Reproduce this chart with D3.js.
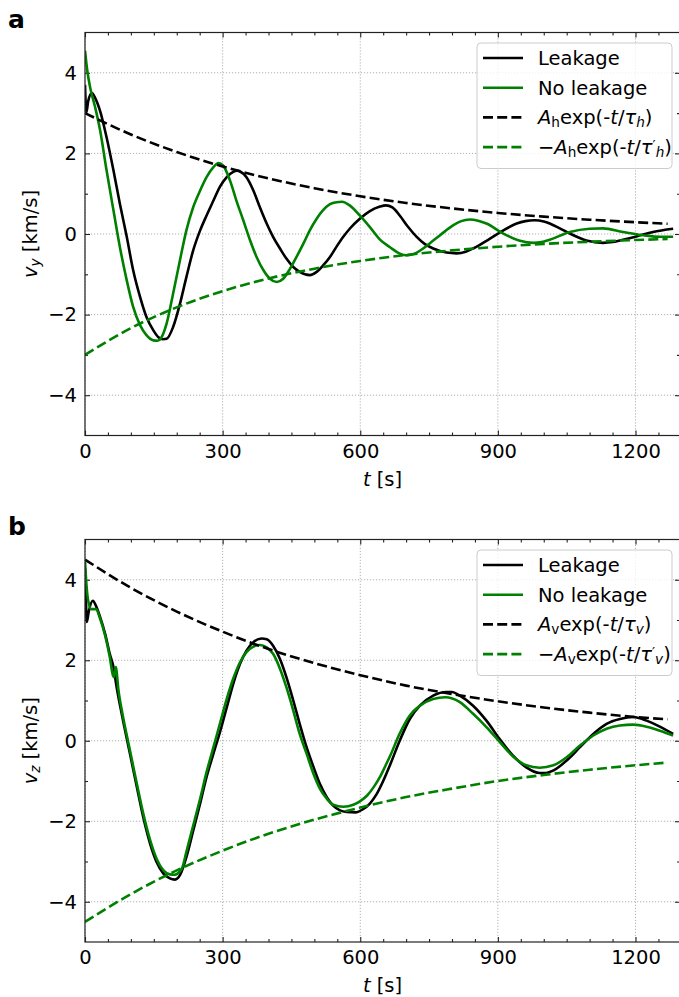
<!DOCTYPE html>
<html>
<head>
<meta charset="utf-8">
<script src="https://cdn.jsdelivr.net/npm/d3@7"></script>
<style>
  body { margin: 0; background: #fff; }
  svg { display: block; }
  text { font-family: "DejaVu Sans", sans-serif; fill: #000; }
</style>
</head>
<body>
<svg id="fig" width="679" height="997"></svg>
<script>
// ---------- data ----------
// time axis ticks
const xMajorTicks = [0, 300, 600, 900, 1200];
const yMajorTicks = [-4, -2, 0, 2, 4];

// fitted decay envelopes, sampled in time
const envTime = [0, 100, 200, 300, 400, 500, 600, 700, 800, 900, 1000, 1100, 1200, 1270];
const envHUpper = [3.00, 2.47, 2.035, 1.676, 1.38, 1.137, 0.936, 0.771, 0.635, 0.523, 0.431, 0.355, 0.292, 0.255];
const envHLower = [-3.00, -2.336, -1.82, -1.417, -1.104, -0.86, -0.669, -0.521, -0.406, -0.316, -0.246, -0.192, -0.149, -0.125];
const envVUpper = [4.50, 3.80, 3.21, 2.71, 2.28, 1.93, 1.63, 1.37, 1.16, 0.98, 0.827, 0.698, 0.589, 0.533];
const envVLower = [-4.50, -3.81, -3.22, -2.73, -2.31, -1.96, -1.66, -1.40, -1.19, -1.00, -0.85, -0.72, -0.61, -0.54];

// horizontal velocity v_y, with leakage
const vyLeakT = [0, 3, 7, 15, 22, 33, 47, 62, 76, 91, 105, 120, 134, 149, 160, 170, 178, 192, 207, 221, 236, 251, 265, 280, 294, 309, 323, 332, 338, 352, 367, 381, 396, 410, 425, 439, 454, 468, 490, 505, 519, 534, 548, 563, 577, 599, 621, 643, 656, 670, 686, 704, 723, 741, 759, 788, 810, 830, 846, 882, 912, 941, 960, 980, 1000, 1013, 1035, 1057, 1093, 1129, 1150, 1166, 1202, 1238, 1282];
const vyLeakV = [3.70, 3.02, 3.30, 3.50, 3.38, 3.05, 2.40, 1.58, 0.75, -0.07, -0.90, -1.56, -2.06, -2.39, -2.56, -2.61, -2.60, -2.31, -1.73, -1.07, -0.40, 0.09, 0.46, 0.83, 1.17, 1.41, 1.54, 1.57, 1.55, 1.41, 1.08, 0.67, 0.26, -0.07, -0.36, -0.61, -0.82, -0.94, -1.02, -0.94, -0.78, -0.57, -0.32, -0.07, 0.13, 0.38, 0.57, 0.68, 0.71, 0.66, 0.46, 0.18, -0.07, -0.25, -0.36, -0.46, -0.48, -0.44, -0.36, -0.12, 0.09, 0.26, 0.32, 0.34, 0.31, 0.26, 0.14, 0.01, -0.16, -0.22, -0.20, -0.16, -0.06, 0.05, 0.13];

// horizontal velocity v_y, without leakage
const vyNoLeakT = [0, 5, 11, 22, 33, 47, 62, 76, 91, 105, 120, 134, 149, 158, 166, 178, 192, 207, 221, 236, 251, 265, 280, 291, 301, 316, 330, 345, 360, 374, 389, 403, 418, 432, 447, 461, 476, 490, 505, 519, 534, 548, 560, 577, 599, 621, 643, 665, 685, 701, 720, 737, 755, 774, 803, 820, 839, 857, 875, 912, 948, 977, 995, 1013, 1057, 1100, 1129, 1173, 1217, 1253, 1282];
const vyNoLeakV = [4.55, 4.05, 3.65, 3.15, 2.57, 1.58, 0.59, -0.32, -1.15, -1.81, -2.26, -2.51, -2.64, -2.65, -2.58, -2.22, -1.48, -0.65, 0.09, 0.67, 1.08, 1.41, 1.66, 1.76, 1.70, 1.33, 0.83, 0.34, -0.16, -0.57, -0.90, -1.11, -1.19, -1.11, -0.86, -0.57, -0.24, 0.09, 0.38, 0.59, 0.74, 0.79, 0.80, 0.71, 0.46, 0.17, -0.14, -0.33, -0.48, -0.53, -0.48, -0.36, -0.20, -0.03, 0.22, 0.32, 0.36, 0.33, 0.26, 0.01, -0.17, -0.22, -0.20, -0.14, 0.05, 0.13, 0.14, 0.05, -0.03, -0.07, -0.07];

// vertical velocity v_z, with leakage
const vzLeakT = [0, 2, 4, 8, 17, 25, 33, 44, 54, 62, 69, 83, 98, 113, 127, 142, 156, 171, 185, 196, 207, 221, 236, 251, 265, 280, 294, 309, 323, 338, 352, 367, 385, 396, 410, 425, 439, 454, 468, 483, 498, 512, 527, 541, 556, 570, 590, 606, 621, 635, 650, 665, 686, 708, 730, 759, 788, 800, 817, 846, 875, 904, 933, 962, 991, 1005, 1021, 1050, 1079, 1108, 1137, 1166, 1195, 1224, 1253, 1282];
const vzLeakV = [4.30, 3.50, 2.95, 3.20, 3.48, 3.32, 3.07, 2.65, 2.16, 1.83, 1.33, 0.50, -0.32, -1.15, -1.90, -2.56, -3.01, -3.30, -3.42, -3.45, -3.34, -2.89, -2.23, -1.56, -0.90, -0.32, 0.21, 0.83, 1.41, 1.91, 2.24, 2.45, 2.54, 2.52, 2.36, 2.03, 1.58, 1.00, 0.42, -0.16, -0.65, -1.07, -1.40, -1.61, -1.73, -1.77, -1.78, -1.70, -1.56, -1.34, -1.00, -0.60, 0.00, 0.54, 0.87, 1.12, 1.21, 1.21, 1.12, 0.87, 0.50, 0.04, -0.37, -0.66, -0.80, -0.80, -0.74, -0.49, -0.16, 0.17, 0.42, 0.54, 0.59, 0.50, 0.35, 0.17];

// vertical velocity v_z, without leakage
const vzNoLeakT = [0, 3, 7, 14, 24, 33, 44, 54, 61, 63, 67, 73, 83, 98, 113, 127, 142, 156, 171, 185, 195, 211, 221, 236, 251, 265, 280, 294, 309, 323, 338, 352, 367, 381, 396, 410, 425, 439, 454, 468, 483, 498, 512, 527, 541, 563, 585, 600, 615, 630, 643, 655, 665, 686, 708, 730, 759, 785, 817, 846, 875, 904, 933, 962, 991, 1021, 1050, 1079, 1108, 1137, 1166, 1195, 1224, 1253, 1282];
const vzNoLeakV = [4.47, 3.90, 3.48, 3.27, 3.27, 3.03, 2.61, 2.08, 1.62, 1.58, 1.83, 1.25, 0.59, -0.24, -1.07, -1.81, -2.47, -2.93, -3.22, -3.32, -3.33, -3.18, -2.76, -2.10, -1.44, -0.78, -0.16, 0.42, 1.04, 1.54, 1.95, 2.20, 2.34, 2.38, 2.32, 2.16, 1.79, 1.33, 0.75, 0.17, -0.32, -0.82, -1.19, -1.44, -1.59, -1.64, -1.59, -1.50, -1.36, -1.14, -0.90, -0.62, -0.38, 0.18, 0.63, 0.87, 1.04, 1.08, 0.96, 0.67, 0.34, -0.03, -0.39, -0.61, -0.67, -0.61, -0.41, -0.12, 0.13, 0.30, 0.38, 0.40, 0.35, 0.25, 0.13];

// ---------- drawing ----------
const svg = d3.select("#fig");
const FONT = 19.5;
const GREEN = "#008000";
const LW = 2.6;
const DASH = "10,4.2";
const tMax = 1297;
const xMinorTicks = d3.range(50, 1300, 50).filter(v => v % 300 !== 0);
const yMinorTicks = [-3, -1, 1, 3];

const zip = (ts, vs) => ts.map((t, i) => [t, vs[i]]);

// Writes a label made of plain / italic / subscript / superscript pieces.
function richText(sel, parts) {
  parts.forEach(p => {
    const ts = sel.append("tspan").text(p.s);
    if (p.i) ts.attr("font-style", "italic");
    if (p.sub) ts.attr("baseline-shift", "-22%").attr("font-size", "70%");
    if (p.sup) ts.attr("baseline-shift", "30%").attr("font-size", "70%");
  });
}

function panel(opts) {
  const x = d3.scaleLinear().domain([0, tMax]).range([85, 680]);
  const y = d3.scaleLinear().domain([-5, 5]).range([opts.bottom, opts.top]);
  const g = svg.append("g");
  const clipId = "clip-" + opts.letter;

  g.append("clipPath").attr("id", clipId).append("rect")
    .attr("x", x(0)).attr("y", y(5))
    .attr("width", x(tMax) - x(0)).attr("height", y(-5) - y(5));

  // grid
  const grid = g.append("g").attr("stroke", "#b0b0b0").attr("stroke-width", 1)
    .attr("stroke-dasharray", "1.2,1.8");
  grid.selectAll(".gx").data(xMajorTicks).join("line")
    .attr("x1", d => x(d)).attr("x2", d => x(d))
    .attr("y1", y(-5)).attr("y2", y(5));
  grid.selectAll(".gy").data(yMajorTicks).join("line")
    .attr("x1", x(0)).attr("x2", x(tMax))
    .attr("y1", d => y(d)).attr("y2", d => y(d));

  // axes with inward ticks on all four sides
  const axisStyle = a => {
    a.select(".domain").remove();
    a.selectAll(".tick line").attr("stroke", "#222").attr("stroke-width", 1.1);
    a.selectAll(".tick text").attr("font-size", FONT).attr("font-family", "DejaVu Sans").attr("fill", "#000");
  };
  g.append("g").attr("transform", `translate(0,${y(-5)})`)
    .call(d3.axisBottom(x).tickValues(xMajorTicks).tickSize(-5).tickPadding(8.5).tickFormat(d3.format("d")))
    .call(axisStyle);
  g.append("g").attr("transform", `translate(0,${y(-5)})`)
    .call(d3.axisBottom(x).tickValues(xMinorTicks).tickSize(-3).tickFormat(""))
    .call(axisStyle);
  g.append("g").attr("transform", `translate(0,${y(5)})`)
    .call(d3.axisTop(x).tickValues(xMajorTicks).tickSize(-5).tickFormat(""))
    .call(axisStyle);
  g.append("g").attr("transform", `translate(0,${y(5)})`)
    .call(d3.axisTop(x).tickValues(xMinorTicks).tickSize(-3).tickFormat(""))
    .call(axisStyle);
  g.append("g").attr("transform", `translate(${x(0)},0)`)
    .call(d3.axisLeft(y).tickValues(yMajorTicks).tickSize(-5).tickPadding(8))
    .call(axisStyle);
  g.append("g").attr("transform", `translate(${x(0)},0)`)
    .call(d3.axisLeft(y).tickValues(yMinorTicks).tickSize(-3).tickFormat(""))
    .call(axisStyle);
  g.append("g").attr("transform", `translate(${x(tMax)},0)`)
    .call(d3.axisRight(y).tickValues(yMajorTicks).tickSize(-5).tickFormat(""))
    .call(axisStyle);
  g.append("g").attr("transform", `translate(${x(tMax)},0)`)
    .call(d3.axisRight(y).tickValues(yMinorTicks).tickSize(-3).tickFormat(""))
    .call(axisStyle);

  // curves
  const line = d3.line().x(d => x(d[0])).y(d => y(d[1])).curve(d3.curveMonotoneX);
  const plot = g.append("g").attr("clip-path", `url(#${clipId})`).attr("fill", "none");
  opts.series.forEach(s => {
    plot.append("path").datum(s.data).attr("d", line)
      .attr("stroke", s.color).attr("stroke-width", LW)
      .attr("stroke-dasharray", s.dash ? DASH : null)
      .attr("stroke-linejoin", "round");
  });

  // frame
  g.append("rect").attr("x", x(0)).attr("y", y(5))
    .attr("width", x(tMax) - x(0)).attr("height", y(-5) - y(5))
    .attr("fill", "none").attr("stroke", "#222").attr("stroke-width", 1.2);

  // axis labels
  const xl = g.append("text").attr("x", (x(0) + x(tMax)) / 2).attr("y", y(-5) + 50)
    .attr("text-anchor", "middle").attr("font-size", FONT);
  richText(xl, [{ s: "t", i: true }, { s: " [s]" }]);
  const yl = g.append("text")
    .attr("transform", `translate(37,${(y(5) + y(-5)) / 2}) rotate(-90)`)
    .attr("text-anchor", "middle").attr("font-size", FONT);
  richText(yl, [{ s: "v", i: true }, { s: opts.comp, i: true, sub: true }, { s: " [km/s]" }]);

  // panel letter
  g.append("text").attr("x", 8).attr("y", opts.top - 5)
    .attr("font-family", "Liberation Sans, Arial, sans-serif")
    .attr("font-weight", "bold").attr("font-size", 25).text(opts.letter);

  // legend
  const lx = 477, ly = opts.top + 10.5, lw = 195, lh = 125.5, rowH = 29.7;
  const leg = g.append("g");
  leg.append("rect").attr("x", lx).attr("y", ly).attr("width", lw).attr("height", lh)
    .attr("rx", 4).attr("fill", "#fff").attr("fill-opacity", 0.8)
    .attr("stroke", "#cccccc").attr("stroke-width", 1);
  opts.series.forEach((s, i) => {
    const cy = ly + 15 + i * rowH;
    leg.append("line").attr("x1", lx + 6).attr("x2", lx + 46).attr("y1", cy).attr("y2", cy)
      .attr("stroke", s.color).attr("stroke-width", LW)
      .attr("stroke-dasharray", s.dash ? DASH : null);
    const t = leg.append("text").attr("x", lx + 61).attr("y", cy + 6.8).attr("font-size", FONT);
    richText(t, s.label);
  });
}

function envLabel(sub, neg, prime) {
  const parts = [];
  if (neg) parts.push({ s: "\u2212" });
  parts.push({ s: "A", i: true }, { s: sub, sub: true }, { s: "exp(-" }, { s: "t", i: true },
    { s: "/" }, { s: "\u03C4", i: true });
  if (prime) parts.push({ s: "\u2032", sup: true });
  parts.push({ s: sub, i: true, sub: true }, { s: ")" });
  return parts;
}

panel({
  letter: "a", top: 32.5, bottom: 435.5, comp: "y",
  series: [
    { data: zip(vyLeakT, vyLeakV), color: "#000", label: [{ s: "Leakage" }] },
    { data: zip(vyNoLeakT, vyNoLeakV), color: GREEN, label: [{ s: "No leakage" }] },
    { data: zip(envTime, envHUpper), color: "#000", dash: true, label: envLabel("h", false, false) },
    { data: zip(envTime, envHLower), color: GREEN, dash: true, label: envLabel("h", true, true) }
  ]
});

panel({
  letter: "b", top: 539.5, bottom: 942, comp: "z",
  series: [
    { data: zip(vzLeakT, vzLeakV), color: "#000", label: [{ s: "Leakage" }] },
    { data: zip(vzNoLeakT, vzNoLeakV), color: GREEN, label: [{ s: "No leakage" }] },
    { data: zip(envTime, envVUpper), color: "#000", dash: true, label: envLabel("v", false, false) },
    { data: zip(envTime, envVLower), color: GREEN, dash: true, label: envLabel("v", true, true) }
  ]
});
</script>
</body>
</html>
